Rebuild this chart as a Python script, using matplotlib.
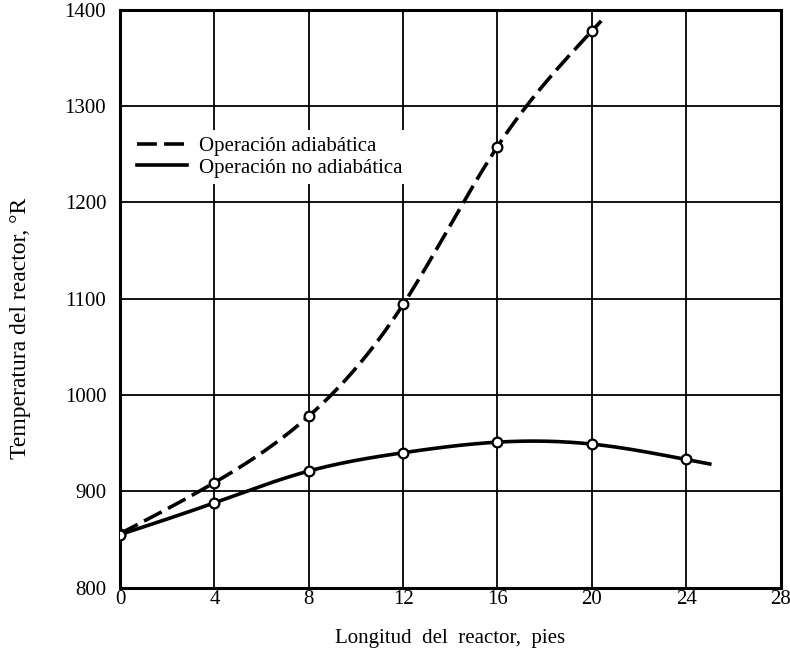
import numpy as np
import matplotlib
matplotlib.use("Agg")
import matplotlib.pyplot as plt

# ---- data ----
longitud = [0, 4, 8, 12, 16, 20]
temp_adiabatica = [856, 909, 978, 1094, 1258, 1378]
longitud_no = [0, 4, 8, 12, 16, 20, 24]
temp_no_adiabatica = [855, 888, 921, 940, 951, 949, 933]
fin_adiabatica = 20.4       # where the dashed curve ends
fin_no_adiabatica = 25.0    # where the solid curve ends

x_ticks = [0, 4, 8, 12, 16, 20, 24, 28]
y_ticks = [800, 900, 1000, 1100, 1200, 1300, 1400]

etiqueta_a = "Operación adiabática"
etiqueta_b = "Operación no adiabática"
xlabel = "Longitud  del  reactor,  pies"
ylabel = "Temperatura del reactor, °R"


def natural_spline(x, y, xe):
    x = np.asarray(x, float); y = np.asarray(y, float)
    n = len(x)
    h = np.diff(x)
    A = np.zeros((n, n)); r = np.zeros(n)
    A[0, 0] = 1; A[-1, -1] = 1
    for i in range(1, n - 1):
        A[i, i - 1] = h[i - 1]
        A[i, i] = 2 * (h[i - 1] + h[i])
        A[i, i + 1] = h[i]
        r[i] = 3 * ((y[i + 1] - y[i]) / h[i] - (y[i] - y[i - 1]) / h[i - 1])
    c = np.linalg.solve(A, r)
    b = np.zeros(n - 1); d = np.zeros(n - 1)
    for i in range(n - 1):
        b[i] = (y[i + 1] - y[i]) / h[i] - h[i] * (2 * c[i] + c[i + 1]) / 3
        d[i] = (c[i + 1] - c[i]) / (3 * h[i])
    xe = np.asarray(xe, float)
    idx = np.clip(np.searchsorted(x, xe) - 1, 0, n - 2)
    dx = xe - x[idx]
    return y[idx] + b[idx] * dx + c[idx] * dx ** 2 + d[idx] * dx ** 3


plt.rcParams['font.family'] = ['Liberation Serif', 'DejaVu Serif']

fig = plt.figure(figsize=(7.9, 6.55), dpi=100)
ax = fig.add_axes([0.152, 0.103, 0.836, 0.882])

ax.set_xlim(0, 28)
ax.set_ylim(800, 1400)
ax.set_xticks(x_ticks)
ax.set_yticks(y_ticks)
ax.set_xticklabels([str(t) for t in x_ticks], fontsize=15)
ax.set_yticklabels([str(t) for t in y_ticks], fontsize=15)
ax.tick_params(axis='x', length=0, pad=2)
ax.tick_params(axis='y', length=0, pad=10)
ax.grid(True, color='black', linewidth=1.3)
ax.set_axisbelow(True)
for s in ax.spines.values():
    s.set_linewidth(2.2)
    s.set_color('black')

xa = np.linspace(0, fin_adiabatica, 300)
xb = np.linspace(0, fin_no_adiabatica, 300)
ax.plot(xa, natural_spline(longitud, temp_adiabatica, xa), color='black',
        lw=2.6, linestyle=(0, (5.5, 2.0)), label=etiqueta_a, zorder=3)
ax.plot(xb, natural_spline(longitud_no, temp_no_adiabatica, xb), color='black',
        lw=2.6, label=etiqueta_b, zorder=3)
ax.plot(longitud, temp_adiabatica, 'o', ms=7, mfc='white', mec='black', mew=1.6, zorder=4)
ax.plot(longitud_no, temp_no_adiabatica, 'o', ms=7, mfc='white', mec='black', mew=1.6, zorder=4)

leg = ax.legend(loc='upper left', bbox_to_anchor=(0.0, 0.81), fontsize=15,
                frameon=True, facecolor='white', edgecolor='none', framealpha=1,
                handlelength=2.4, handletextpad=0.6, labelspacing=0.1,
                borderpad=0.3, fancybox=False)

ax.set_xlabel(xlabel, fontsize=15, labelpad=14)
ax.set_ylabel(ylabel, fontsize=17)
ax.yaxis.set_label_coords(-0.135, 0.448)

fig.savefig("out.png", dpi=100, facecolor='white')
